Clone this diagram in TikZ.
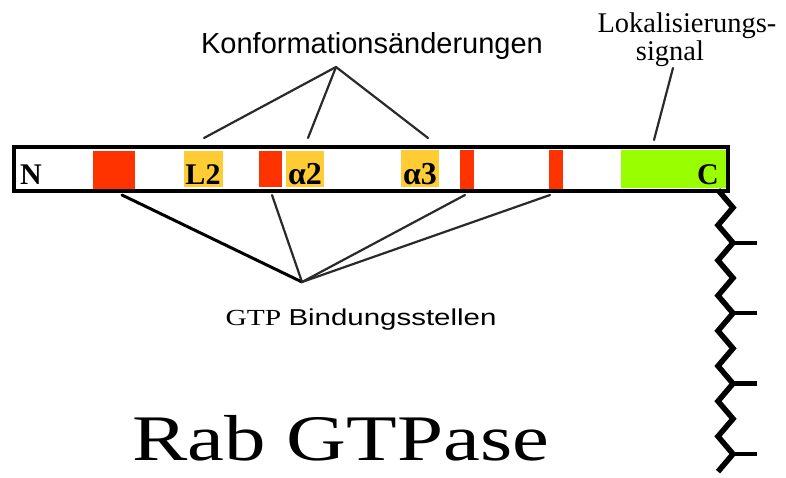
\documentclass[tikz,border=0pt]{standalone}
\usepackage{fontspec}
\setmainfont{Liberation Serif}
\newfontfamily\helv{Liberation Sans}
\usetikzlibrary{calc}
\definecolor{SiteRed}{HTML}{FF3300}
\definecolor{LoopGold}{HTML}{FFCC33}
\definecolor{TailGreen}{HTML}{99FF00}
\definecolor{Pointer}{HTML}{2A2A2A}
\tikzset{
  barlabel/.style={font=\fontsize{30}{30}\selectfont\bfseries,inner sep=0pt,anchor=base},
  pointer/.style={draw=Pointer,line width=2.2pt,line cap=round},
}
\newcommand{\drawblock}[5]{%
  \path[fill=#1] (#2,#3) rectangle (#4,#5);
}

\begin{document}
\begin{tikzpicture}[x=1pt,y=-1pt,line join=miter]
        \useasboundingbox (0,0) rectangle (786,478);
        % protein bar
        \path[fill=white] (14,147) rectangle (728,191);
        \drawblock{SiteRed}{93}{151}{135}{191}
        \drawblock{LoopGold}{184}{151}{223}{187}
        \drawblock{SiteRed}{259}{151}{282}{187}
        \drawblock{LoopGold}{286}{151}{324}{187}
        \drawblock{LoopGold}{401}{150}{439}{187}
        \drawblock{SiteRed}{460}{150}{474}{191}
        \drawblock{SiteRed}{549}{150}{563}{191}
        \drawblock{TailGreen}{621}{150}{727}{188}
        \path[draw=black,line width=3.2pt] (14,147) rectangle (728,191);
        \node[barlabel] (nterm) at (31,185) {N};
        \node[barlabel] (ltwo) at (203,185) {L2};
        \node[barlabel,font=\fontsize{32}{32}\selectfont\bfseries] (atwo) at (305,185) {α2};
        \node[barlabel,font=\fontsize{32}{32}\selectfont\bfseries] (athree) at (420,185) {α3};
        \node[barlabel] (cterm) at (708,185) {C};
        % lipid anchor
        \draw[line width=5.5pt] (718,190)
          \foreach \k in {1,...,16} { -- ({isodd(\k)?733:718},{190+17.6*\k}) };
        \foreach \k in {3,7,11,15}
          \draw[line width=4.5pt] (733,{190+17.6*\k}) -- ++(24,0);
        % labels
        \node[font=\helv\fontsize{29}{29}\selectfont,inner sep=0pt,anchor=base]
          (konf) at (372,54) {Konformationsänderungen};
        \node[font=\fontsize{28.5}{28.5}\selectfont,inner sep=0pt,anchor=base]
          (lokal) at (687,33) {Lokalisierungs-};
        \node[font=\fontsize{28.5}{28.5}\selectfont,inner sep=0pt,anchor=base]
          (signal) at (670,61) {signal};
        \node[font=\fontsize{23}{23}\selectfont,inner sep=0pt,anchor=base,xscale=1.28]
          (gtp) at (361,325) {GTP {\helv Bindungsstellen}};
        \node[font=\fontsize{65}{65}\selectfont,inner sep=0pt,anchor=base,xscale=1.275]
          (rab) at (341,460) {Rab GTPase};
        % pointers
        \coordinate (konftip) at (336,67);
        \coordinate (gtptip) at (302,282);
        \foreach \px in {204,308,428}
          \draw[pointer] (konftip) -- (\px,138);
        \draw[pointer] (654,140) -- (673,68);
        \draw[pointer,draw=black,line width=3pt] (gtptip) -- (122,195);
        \foreach \px in {272,465,550}
          \draw[pointer] (gtptip) -- (\px,195);
      \end{tikzpicture}
\end{document}
